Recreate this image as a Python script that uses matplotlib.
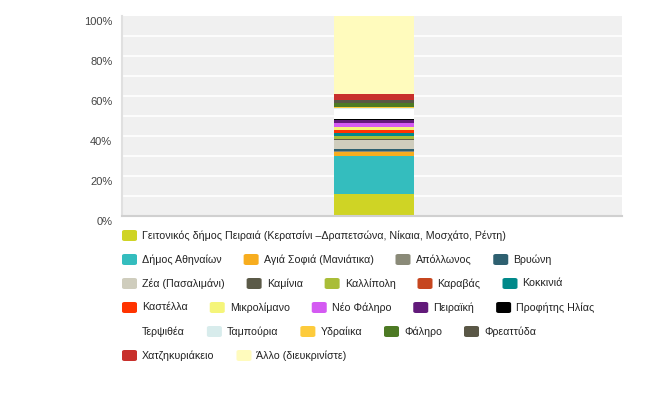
import matplotlib
matplotlib.use("Agg")
import matplotlib.pyplot as plt
import matplotlib.transforms as mtransforms
from matplotlib.patches import FancyBboxPatch

plt.rcParams['font.family'] = ['Liberation Sans', 'DejaVu Sans']

categories = [
    "Γειτονικός δήμος Πειραιά (Κερατσίνι –Δραπετσώνα, Νίκαια, Μοσχάτο, Ρέντη)",
    "Δήμος Αθηναίων", "Αγιά Σοφιά (Μανιάτικα)", "Απόλλωνος", "Βρυώνη",
    "Ζέα (Πασαλιμάνι)", "Καμίνια", "Καλλίπολη", "Καραβάς", "Κοκκινιά",
    "Καστέλλα", "Μικρολίμανο", "Νέο Φάληρο", "Πειραϊκή", "Προφήτης Ηλίας",
    "Τερψιθέα", "Ταμπούρια", "Υδραίικα", "Φάληρο", "Φρεαττύδα",
    "Χατζηκυριάκειο", "Άλλο (διευκρινίστε)",
]
values = [11.0, 19.25, 1.75, 0.5, 1.0, 4.5, 0.7, 1.5, 0.0, 1.3,
          1.7, 1.5, 1.6, 1.8, 0.5, 4.8, 0.8, 0.5, 2.0, 1.5, 2.8, 39.0]
colors = ["#cfd425", "#34bdbe", "#f7ad1f", "#8a8a78", "#2e6070",
          "#cfcdbd", "#5b5a48", "#a9bd38", "#c6461f", "#00898a",
          "#ff3300", "#f5f57a", "#d45af2", "#621a7a", "#000000",
          "#ffffff", "#d8ecec", "#fdcb3c", "#4d7a24", "#5a5746",
          "#c8302c", "#fffbbd"]
ytick_vals = [0, 20, 40, 60, 80, 100]
ytick_labels = ["0%", "20%", "40%", "60%", "80%", "100%"]
legend_rows = [1, 4, 5, 5, 5, 2]

W, H = 650, 404
fig = plt.figure(figsize=(W / 100, H / 100), dpi=100)
fig.patch.set_facecolor("white")
ax = fig.add_axes([122 / W, 1 - 216 / H, 500 / W, 200 / H])
ax.set_facecolor("#f0f0f0")
ax.set_xlim(-0.5, 0.5)
ax.set_ylim(0, 100)

for g in range(10, 100, 10):
    ax.axhline(g, color="white", lw=1.2, zorder=1)

bottom = 0.0
for v, c in zip(values, colors):
    ax.bar(0.004, v, bottom=bottom, width=0.16, color=c, edgecolor="none", zorder=2)
    bottom += v

for s in ["top", "right"]:
    ax.spines[s].set_visible(False)
ax.spines["left"].set_color("#e0e0e0")
ax.spines["left"].set_linewidth(1.5)
ax.spines["bottom"].set_color("#d0d0d0")
ax.spines["bottom"].set_linewidth(1.5)
ax.set_xticks([])
ax.set_yticks(ytick_vals)
ax.set_yticklabels(ytick_labels)
ax.tick_params(axis="y", length=0, pad=7, labelsize=8, labelcolor="#444444")
offset = mtransforms.ScaledTranslation(0, -5 / 100, fig.dpi_scale_trans)
for lbl in ax.get_yticklabels():
    lbl.set_transform(lbl.get_transform() + offset)

# legend (flow layout with fixed row breaks)
fig.canvas.draw()
renderer = fig.canvas.get_renderer()
row_y = [235.5, 259.5, 283.5, 307.5, 331.5, 355.5]
idx = 0
for r, n in enumerate(legend_rows):
    x = 121.0
    y = row_y[r]
    for k in range(n):
        name = categories[idx]
        col = colors[idx]
        sq = FancyBboxPatch(((x + 1) / W, 1 - (y + 5.5) / H), 15 / W, 11 / H,
                            boxstyle="round,pad=0,rounding_size=0.004",
                            transform=fig.transFigure, facecolor=col,
                            edgecolor="none")
        fig.add_artist(sq)
        t = fig.text((x + 21) / W, 1 - y / H, name, fontsize=7.65,
                     color="#222222", va="center", ha="left")
        bb = t.get_window_extent(renderer)
        x = x + 21 + bb.width + 21
        idx += 1

fig.savefig("out.png", dpi=100)
